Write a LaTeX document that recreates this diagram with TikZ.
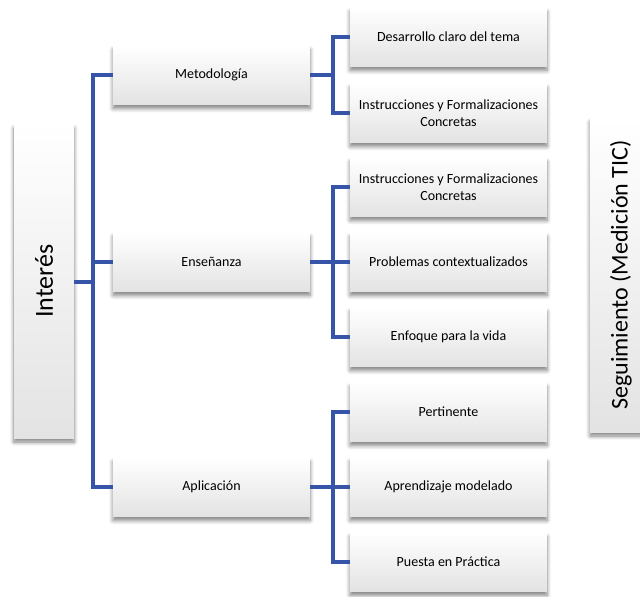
\documentclass[tikz,border=0pt]{standalone}
\usepackage{fontspec}
\setmainfont{Carlito}
\usetikzlibrary{shadows.blur}
\definecolor{linkblue}{RGB}{54,84,168}
\tikzset{
  box/.style={rectangle, minimum width=197pt, minimum height=59pt, inner sep=2pt,
    top color=white, bottom color=black!11, draw=none, align=center,
    font=\fontsize{14}{16.5}\selectfont,
    blur shadow={shadow xshift=0pt, shadow yshift=-4pt, shadow blur steps=6, shadow blur radius=4pt, shadow opacity=50}},
  tallbox/.style={box, minimum width=60pt, minimum height=314pt, font=\fontsize{26}{30}\selectfont},
  link/.style={draw=linkblue, line width=3.5pt}
}
\begin{document}
\begin{tikzpicture}[x=1pt,y=-1pt]
\useasboundingbox (0,0) rectangle (640,597);
\node[tallbox] (int) at (44,281) {\rotatebox{90}{Interés}};
\node[tallbox, minimum width=62pt, font=\fontsize{24}{28}\selectfont] (seg) at (621,275) {\rotatebox{90}{Seguimiento (Medición TIC)}};
\node[box] (met) at (211.5,75) {Metodología};
\node[box] (ens) at (211.5,262) {Enseñanza};
\node[box] (apl) at (211.5,487) {Aplicación};
\node[box] (m1) at (448.5,37) {Desarrollo claro del tema};
\node[box] (m2) at (448.5,113) {Instrucciones y Formalizaciones\\Concretas};
\node[box] (e1) at (448.5,187) {Instrucciones y Formalizaciones\\Concretas};
\node[box] (e2) at (448.5,262) {Problemas contextualizados};
\node[box] (e3) at (448.5,337) {Enfoque para la vida};
\node[box] (a1) at (448.5,412) {Pertinente};
\node[box] (a2) at (448.5,487) {Aprendizaje modelado};
\node[box] (a3) at (448.5,562) {Puesta en Práctica};
\coordinate (t1) at (93,0);
\coordinate (t2) at (333,0);
\draw[link] (int.east |- 0,282) -- (t1 |- 0,282);
\draw[link] (met.west) -| (t1 |- apl.west) -- (apl.west);
\draw[link] (t1 |- ens.west) -- (ens.west);
\foreach \p/\a/\b/\c in {met/m1/m2/m2, ens/e1/e2/e3, apl/a1/a2/a3}{
  \draw[link] (\p.east) -- (t2 |- \p.east);
  \draw[link] (\a.west) -| (t2 |- \c.west) -- (\c.west);
  \draw[link] (t2 |- \b.west) -- (\b.west);
}
\end{tikzpicture}
\end{document}
